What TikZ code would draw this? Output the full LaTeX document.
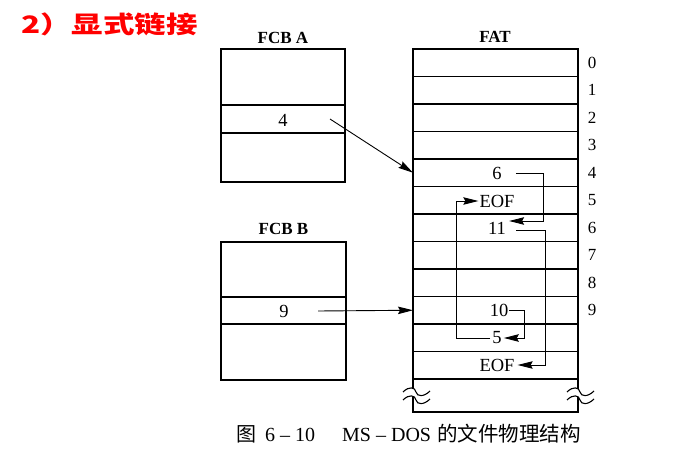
\documentclass[tikz,border=0pt]{standalone}
\usepackage{graphicx}
\usepackage{fontspec}
\setmainfont{Liberation Serif}
\newfontfamily\cjk{Noto Sans CJK SC}
\usetikzlibrary{arrows.meta}
\begin{document}
\begin{tikzpicture}[x=1pt,y=-1pt,
  box/.style={draw, line width=1.3pt, inner sep=0pt, outer sep=0pt},
  lbl/.style={font=\fontsize{17}{17}\selectfont, inner sep=0pt},
  ent/.style={font=\fontsize{18.5}{18.5}\selectfont, inner sep=0pt},
  ttl/.style={font=\fontsize{17}{17}\selectfont\bfseries, inner sep=0pt},
  lnk/.style={line width=0.9pt, -{Stealth[length=15pt,width=7.5pt,inset=2pt]}},
  brk/.style={line width=1.1pt},
]
\useasboundingbox (0,0) rectangle (682,462);
\fill[white] (0,0) rectangle (682,462);

% heading
\node[anchor=west, inner sep=0pt, text=red] (head) at (21,24)
  {\scalebox{1.31}[1]{\fontsize{24}{24}\selectfont\cjk\bfseries 2）显式链接}};

% FCB A
\node[ttl] (ta) at (283,38) {FCB A};
\node[box, minimum width=124pt, minimum height=56pt] (a1) at (283,77) {};
\node[box, minimum width=124pt, minimum height=28pt] (a2) at (283,119) {};
\node[box, minimum width=124pt, minimum height=49pt] (a3) at (283,157.5) {};
\node[ent] (v4) at (283,120) {4};

% FCB B
\node[ttl] (tb) at (283.5,229) {FCB B};
\node[box, minimum width=125pt, minimum height=55pt] (b1) at (283.5,269.5) {};
\node[box, minimum width=125pt, minimum height=27pt] (b2) at (283.5,310.5) {};
\node[box, minimum width=125pt, minimum height=56pt] (b3) at (283.5,352) {};
\node[ent] (v9) at (284,311) {9};

% FAT
\node[ttl] (tf) at (495,37) {FAT};
\foreach \k in {0,...,11}
  \node[box, minimum width=165pt, minimum height=27.5pt] (r\k) at (495.5,{49+27.5*(\k+0.5)}) {};
\node[box, minimum width=165pt, minimum height=33pt] (rb) at (495.5,395.5) {};
\foreach \k in {0,...,9}
  \node[lbl] (n\k) at ([xshift=14pt]r\k.east) {\k};

% break marks
\foreach \xx in {416,580}{
  \fill[white] (\xx-13,392) .. controls (\xx-7,386) and (\xx-1,387) .. (\xx,392)
             .. controls (\xx+1,397) and (\xx+8,397) .. (\xx+14,391)
             -- (\xx+14,399) .. controls (\xx+8,405) and (\xx+1,405) .. (\xx,400)
             .. controls (\xx-1,395) and (\xx-7,394) .. (\xx-13,400) -- cycle;
  \draw[brk] (\xx-13,392) .. controls (\xx-7,386) and (\xx-1,387) .. (\xx,392)
             .. controls (\xx+1,397) and (\xx+8,397) .. (\xx+14,391);
  \draw[brk] (\xx-13,400) .. controls (\xx-7,394) and (\xx-1,395) .. (\xx,400)
             .. controls (\xx+1,405) and (\xx+8,405) .. (\xx+14,399);
}

% FAT entries
\node[ent] (e4) at (497,173) {6};
\node[ent] (e5) at (497,201) {EOF};
\node[ent] (e6) at (497,228) {11};
\node[ent] (e9) at (499,310) {10};
\node[ent] (e10) at (497,338) {5};
\node[ent] (e11) at (497,365) {EOF};

% pointers from FCBs
\draw[lnk] ([xshift=47pt,yshift=1pt]v4.center) -- (r4.west);
\draw[lnk] ([xshift=34pt]v9.center) -- (r9.west);

% chain A: 4 -> 6 -> 11 -> EOF
\draw[lnk] ([xshift=14pt]e4.east) -- ++(28,0) |- ([xshift=3pt,yshift=7pt]e6.east);
\draw[lnk] ([xshift=10pt,yshift=-2pt]e6.east) -- ++(29,0) |- ([xshift=3pt]e11.east);

% chain B: 9 -> 10 -> 5 -> EOF
\draw[lnk] ([xshift=1pt]e9.east) -- ++(15,0) |- ([xshift=2pt]e10.east);
\draw[lnk] ([xshift=-2pt]e10.west) -- (456,338) |- ([xshift=-1pt]e5.west);

% caption
\node[anchor=west, inner sep=0pt, font=\fontsize{20}{20}\selectfont] (c1) at (236,434) {\cjk 图};
\node[anchor=west, inner sep=0pt, font=\fontsize{20}{20}\selectfont] (c2) at (265,435) {6 – 10};
\node[anchor=west, inner sep=0pt, font=\fontsize{20}{20}\selectfont] (c3) at (342,435) {MS – DOS};
\node[anchor=west, inner sep=0pt, font=\fontsize{20.5}{20.5}\selectfont] (c4) at (437,434) {\cjk 的文件物理结构};
\end{tikzpicture}
\end{document}
